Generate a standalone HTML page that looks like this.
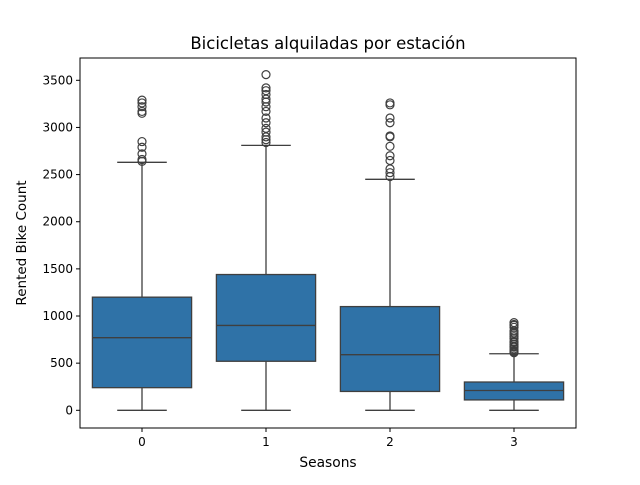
<!DOCTYPE html>
<html><head><meta charset="utf-8"><style>
body{margin:0;background:#fff}
svg text{font-family:"DejaVu Sans","Liberation Sans",sans-serif;fill:#000}
</style></head><body>
<svg id="chart" width="640" height="480"></svg>
<script>
const categories=["0","1","2","3"];
const mins=[0,0,0,0];
const q1s=[240,520,200,110];
const medians=[770,900,590,210];
const q3s=[1200,1440,1100,300];
const maxs=[2630,2810,2450,600];
const outliers=[
 [2640,2660,2720,2790,2850,3150,3170,3220,3260,3290],
 [2840,2870,2900,2950,2990,3050,3100,3170,3220,3270,3300,3350,3390,3420,3560],
 [2480,2520,2560,2650,2700,2800,2900,2910,3050,3100,3240,3260],
 [610,620,630,650,670,680,700,720,730,760,780,800,820,840,880,900,910,930]
];
const yTicks=[0,500,1000,1500,2000,2500,3000,3500];
const NS="http://www.w3.org/2000/svg";
const svg=document.getElementById('chart');
const L=80,R=576,T=58,B=428;
const y=v=>410.3-v*330/3500;
const x=i=>L+(i+0.5)*(R-L)/categories.length;
const bw=0.8*(R-L)/categories.length;
function mk(t,a,p){const e=document.createElementNS(NS,t);for(const k in a)e.setAttribute(k,a[k]);(p||svg).appendChild(e);return e;}
const ln='#3f3f3f';
categories.forEach((c,i)=>{
 const g=mk('g',{});
 
 
 const cx=x(i);
 mk('line',{x1:cx,x2:cx,y1:y(q1s[i]),y2:y(mins[i]),stroke:ln,'stroke-width':1.3},g);
 mk('line',{x1:cx,x2:cx,y1:y(q3s[i]),y2:y(maxs[i]),stroke:ln,'stroke-width':1.3},g);
 mk('line',{x1:cx-bw/4,x2:cx+bw/4,y1:y(mins[i]),y2:y(mins[i]),stroke:ln,'stroke-width':1.3},g);
 mk('line',{x1:cx-bw/4,x2:cx+bw/4,y1:y(maxs[i]),y2:y(maxs[i]),stroke:ln,'stroke-width':1.3},g);
 mk('rect',{x:cx-bw/2,y:y(q3s[i]),width:bw,height:y(q1s[i])-y(q3s[i]),fill:'#2f72a7',stroke:ln,'stroke-width':1.3},g);
 mk('line',{x1:cx-bw/2,x2:cx+bw/2,y1:y(medians[i]),y2:y(medians[i]),stroke:ln,'stroke-width':1.3},g);
 outliers[i].forEach(v=>{
  const o=mk('circle',{cx:cx,cy:y(v),r:4,fill:'none',stroke:ln,'stroke-width':1.2},g);
  
  
 });
 mk('line',{x1:cx,x2:cx,y1:B,y2:B+4,stroke:'#000'});
 const t=mk('text',{x:cx,y:B+18,'text-anchor':'middle','font-size':12});t.textContent=c;
 
 
});
yTicks.forEach(v=>{
 mk('line',{x1:L-4,x2:L,y1:y(v),y2:y(v),stroke:'#000'});
 const t=mk('text',{x:L-7,y:y(v)+4,'text-anchor':'end','font-size':12});t.textContent=v;
 
 
});
const fr=mk('rect',{x:L,y:T,width:R-L,height:B-T,fill:'none',stroke:'#000','stroke-width':1});


const ti=mk('text',{x:(L+R)/2,y:49,'text-anchor':'middle','font-size':16.5});ti.textContent='Bicicletas alquiladas por estación';


const xt=mk('text',{x:(L+R)/2,y:467,'text-anchor':'middle','font-size':13.8});xt.textContent='Seasons';


const yt=mk('text',{x:26,y:243,'text-anchor':'middle','font-size':13.5,transform:'rotate(-90 26 243)'});yt.textContent='Rented Bike Count';


</script>
</body></html>
